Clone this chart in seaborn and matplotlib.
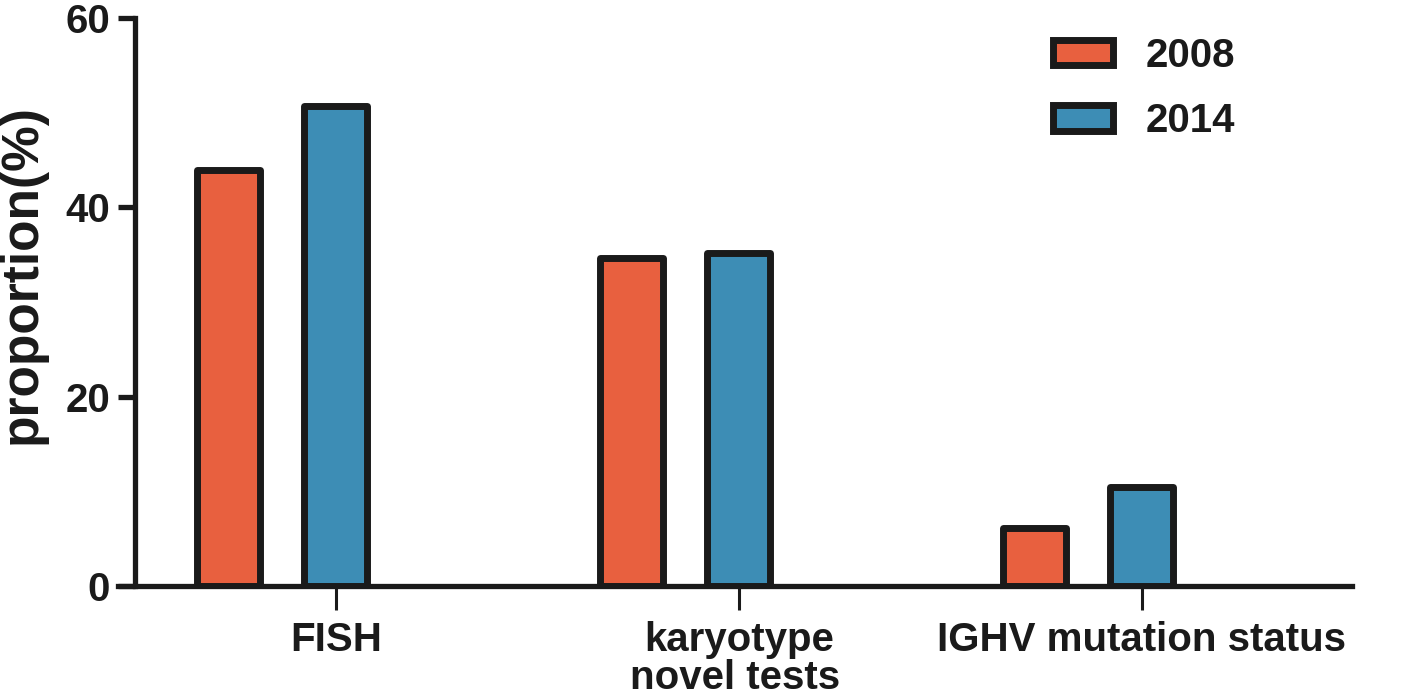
import pandas as pd
import seaborn as sns
import matplotlib.pyplot as plt

categories = ['FISH', 'karyotype', 'IGHV mutation status']
years = ['2008', '2014']
values_2008 = [43.9, 34.7, 6.1]
values_2014 = [50.7, 35.2, 10.5]
y_ticks = [0, 20, 40, 60]

df = pd.DataFrame({
    'test': categories * 2,
    'year': [years[0]] * 3 + [years[1]] * 3,
    'proportion': values_2008 + values_2014,
})

sns.set_style('white')
plt.rcParams['font.family'] = ['Liberation Sans', 'DejaVu Sans']
plt.rcParams['font.weight'] = 'bold'
plt.rcParams['text.color'] = '#1a1a1a'
plt.rcParams['xtick.color'] = '#1a1a1a'
plt.rcParams['ytick.color'] = '#1a1a1a'
plt.rcParams['axes.labelcolor'] = '#1a1a1a'

fig = plt.figure(figsize=(14.18, 6.95), dpi=100)
ax = fig.add_axes([118 / 1418, 1 - 586 / 695, (1352 - 118) / 1418, (586 - 18) / 695])

palette = {'2008': '#E8603F', '2014': '#3D8DB5'}
sns.barplot(data=df, x='test', y='proportion', hue='year', order=categories,
            hue_order=years, palette=palette, width=0.534, gap=0.415,
            edgecolor='#1a1a1a', linewidth=5, saturation=1, ax=ax)
for p in ax.patches:
    p.set_joinstyle('round')

ax.set_xlim(-0.407, 2.655)
ax.set_ylim(0, 60)
ax.set_yticks(y_ticks)
ax.set_yticklabels([str(t) for t in y_ticks])

# ticks sit under the 2014 bar, like the original
ax.set_xticks([i + 0.1335 for i in range(len(categories))])
ax.set_xticklabels(categories)

for side in ['top', 'right']:
    ax.spines[side].set_visible(False)
ax.spines['left'].set_position(('data', -0.365))
for side in ['left', 'bottom']:
    ax.spines[side].set_linewidth(3.8)
    ax.spines[side].set_color('#1a1a1a')

ax.tick_params(axis='y', direction='out', length=12, width=3.8, pad=6,
               left=True, labelsize=29)
ax.tick_params(axis='x', direction='out', length=17, width=2.2, pad=8,
               bottom=True, labelsize=29)
for lbl in ax.get_xticklabels() + ax.get_yticklabels():
    lbl.set_fontweight('bold')

ax.set_xlabel('novel tests', fontsize=29, fontweight='bold', labelpad=0)
ax.set_ylabel('proportion(%)', fontsize=37, fontweight='bold')
ax.yaxis.set_label_coords(-0.058, 0.55)

leg = ax.legend(loc='upper right', bbox_to_anchor=(0.905, 0.967), frameon=False,
                fontsize=29, handlelength=1.5, handleheight=0.6,
                handletextpad=0.8, labelspacing=0.68, borderpad=0,
                borderaxespad=0)
for t in leg.get_texts():
    t.set_fontweight('bold')

fig.savefig('out.png', dpi=100)
